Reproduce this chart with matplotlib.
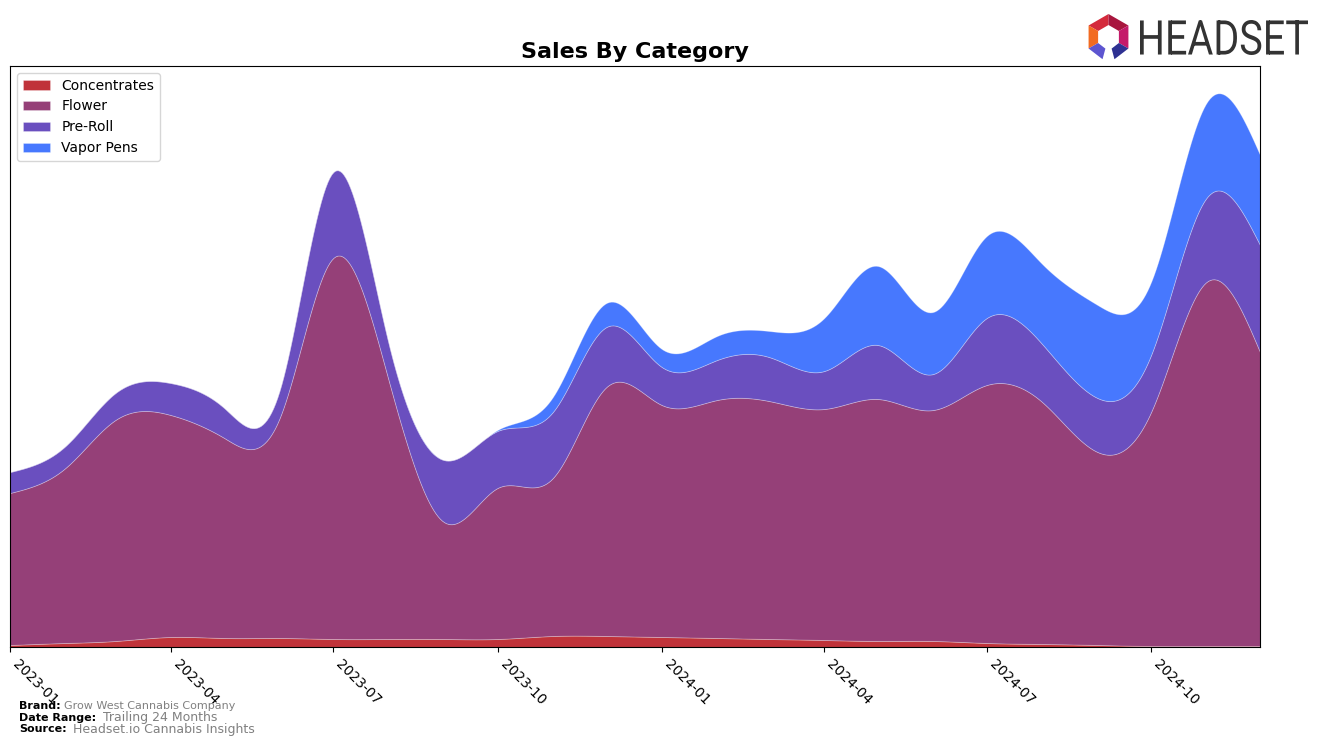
import matplotlib

matplotlib.use("Agg")
import matplotlib.pyplot as plt
import matplotlib.dates as mdates
from matplotlib.patches import Polygon, PathPatch
from matplotlib.textpath import TextPath
from matplotlib.font_manager import FontProperties
from matplotlib.transforms import Affine2D
import numpy as np
import pandas as pd

# Monthly sales by category (arbitrary units)
months = pd.date_range("2023-01-01", "2024-12-01", freq="MS")
categories = ["Concentrates", "Flower", "Pre-Roll", "Vapor Pens"]
concentrates = [2, 4, 6, 10, 9, 9, 8, 8, 8, 8, 11, 11,
                10, 9, 8, 7, 6, 6, 4, 3, 2, 1, 1, 1]
flower = [152, 175, 221, 222, 200, 220, 381, 259, 117, 151, 158, 249,
          232, 238, 238, 231, 242, 231, 258, 242, 193, 234, 364, 294]
pre_roll = [21, 22, 27, 32, 30, 28, 86, 37, 62, 57, 66, 60,
            38, 40, 44, 38, 54, 36, 67, 58, 54, 57, 84, 107]
vapor_pens = [0, 0, 0, 0, 0, 0, 0, 0, 0, 1, 15, 24,
              18, 24, 26, 53, 79, 62, 82, 80, 93, 73, 95, 90]
colors = ["#c0333a", "#954078", "#6a4fbf", "#4778fe"]


def natural_spline(x, y, xs):
    # plain natural cubic spline, used only to smooth the drawn curve
    x = np.asarray(x, float)
    y = np.asarray(y, float)
    n = len(x)
    h = np.diff(x)
    A = np.zeros((n, n))
    b = np.zeros(n)
    A[0, 0] = A[-1, -1] = 1
    for i in range(1, n - 1):
        A[i, i - 1] = h[i - 1]
        A[i, i] = 2 * (h[i - 1] + h[i])
        A[i, i + 1] = h[i]
        b[i] = 3 * ((y[i + 1] - y[i]) / h[i] - (y[i] - y[i - 1]) / h[i - 1])
    c = np.linalg.solve(A, b)
    idx = np.clip(np.searchsorted(x, xs) - 1, 0, n - 2)
    dx = xs - x[idx]
    bb = (y[idx + 1] - y[idx]) / h[idx] - h[idx] * (2 * c[idx] + c[idx + 1]) / 3
    d = (c[idx + 1] - c[idx]) / (3 * h[idx])
    return y[idx] + bb * dx + c[idx] * dx ** 2 + d * dx ** 3


xnum = mdates.date2num(months)
xs = np.linspace(xnum[0], xnum[-1], 600)
series = [concentrates, flower, pre_roll, vapor_pens]
smooth = [np.clip(natural_spline(xnum, s, xs), 0, None) for s in series]

fig = plt.figure(figsize=(13.24, 7.46), dpi=100)
ax = fig.add_axes([10 / 1324, 99 / 746, 1250 / 1324, 581 / 746])
ax.stackplot(mdates.num2date(xs), *smooth, labels=categories, colors=colors,
             edgecolor=(1, 1, 1, 0.3), linewidth=0.6)

ax.set_xlim(months[0], months[-1])
ax.set_ylim(0, 581)
ax.set_yticks([])
ax.xaxis.set_major_locator(mdates.MonthLocator(bymonth=[1, 4, 7, 10]))
ax.xaxis.set_major_formatter(mdates.DateFormatter("%Y-%m"))
plt.setp(ax.get_xticklabels(), rotation=-45, ha="left", fontsize=10)
ax.set_title("Sales By Category", fontsize=16, fontweight="bold", pad=6)
ax.legend(loc="upper left", fontsize=10)

# Footer
fig.text(19 / 1324, 1 - 706 / 746, "Brand:", fontsize=8, fontweight="bold", va="center")
fig.text(64 / 1324, 1 - 706 / 746, "Grow West Cannabis Company", fontsize=8,
         color="gray", va="center")
fig.text(19 / 1324, 1 - 718 / 746, "Date Range:", fontsize=8, fontweight="bold", va="center")
fig.text(103 / 1324, 1 - 718 / 746, "Trailing 24 Months", fontsize=9,
         color="gray", va="center")
fig.text(19 / 1324, 1 - 729 / 746, "Source:", fontsize=8, fontweight="bold", va="center")
fig.text(73 / 1324, 1 - 729 / 746, "Headset.io Cannabis Insights", fontsize=9,
         color="gray", va="center")

# Logo, drawn in an overlay axes in pixel units
lax = fig.add_axes([0, 0, 1, 1], zorder=5)
lax.set_xlim(0, 1324)
lax.set_ylim(746, 0)
lax.axis("off")

tp = TextPath((0, 0), "HEADSET", size=100, prop=FontProperties(family="Roboto"))
ext = tp.get_extents()
sx = (1308 - 1140) / ext.width
sy = (55 - 20) / ext.height
tr = Affine2D().translate(-ext.x0, -ext.y0).scale(sx, -sy).translate(1140, 55)
lax.add_patch(PathPatch(tr.transform_path(tp), color="#333333", lw=0))

cx, cy, R, r = 1108.5, 37, 23, 12


def hexpt(ang, rad):
    a = np.radians(ang)
    return (cx + rad * np.cos(a), cy - rad * np.sin(a))


segs = [(90, 150, "#d42a3c"), (30, 90, "#a8163e"), (150, 210, "#f26b21"),
        (-30, 30, "#c41a6a"), (210, 255, "#5d55d0"), (285, 330, "#2e3192")]
for t1, t2, col in segs:
    pts = [hexpt(t1, R), hexpt(t2, R), hexpt(t2, r), hexpt(t1, r)]
    lax.add_patch(Polygon(pts, closed=True, color=col, lw=0))

fig.savefig("out.png", dpi=100)
